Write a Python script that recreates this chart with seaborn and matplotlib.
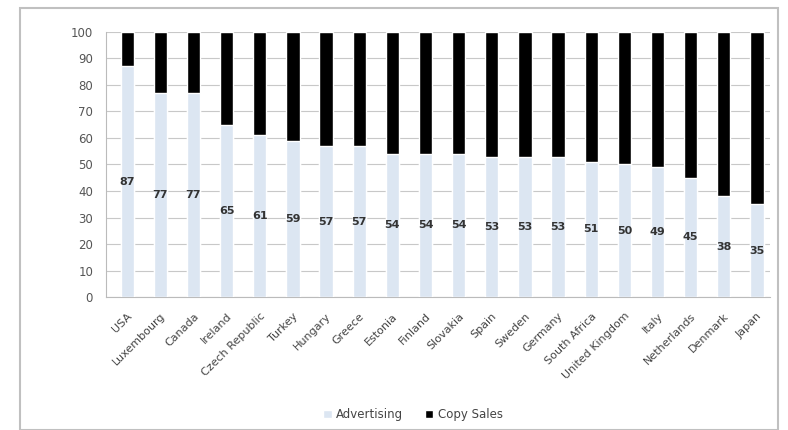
import matplotlib
matplotlib.use("Agg")
import matplotlib.pyplot as plt
import seaborn as sns
import pandas as pd
from matplotlib.patches import Rectangle, Patch

countries = ["USA", "Luxembourg", "Canada", "Ireland", "Czech Republic", "Turkey",
             "Hungary", "Greece", "Estonia", "Finland", "Slovakia", "Spain", "Sweden",
             "Germany", "South Africa", "United Kingdom", "Italy", "Netherlands",
             "Denmark", "Japan"]
advertising = [87, 77, 77, 65, 61, 59, 57, 57, 54, 54, 54, 53, 53, 53, 51, 50, 49, 45, 38, 35]
copy_sales = [13, 23, 23, 35, 39, 41, 43, 43, 46, 46, 46, 47, 47, 47, 49, 50, 51, 55, 62, 65]

df = pd.DataFrame({"country": countries, "Advertising": advertising, "Copy Sales": copy_sales})
df["total"] = df["Advertising"] + df["Copy Sales"]

sns.set_style("white")
fig = plt.figure(figsize=(7.88, 4.3), dpi=100)
ax = fig.add_axes([0.134, 0.309, 0.843, 0.617])

adv_color = "#dce6f2"
sns.barplot(data=df, x="country", y="total", color="black", width=0.4, ax=ax,
            saturation=1, zorder=3)
sns.barplot(data=df, x="country", y="Advertising", color=adv_color, width=0.4, ax=ax,
            saturation=1, zorder=3)

for i, v in enumerate(advertising):
    ax.text(i, v / 2, str(v), ha="center", va="center", fontsize=8,
            color="#333333", fontweight="bold", zorder=4)

ax.set_ylim(0, 100)
ax.set_xlim(-0.65, len(countries) - 0.61)
ax.set_yticks(range(0, 101, 10))
ax.tick_params(axis="y", labelsize=8.5, colors="#555555", length=0, pad=9)
ax.set_xticks(range(len(countries)))
ax.set_xticklabels(countries, rotation=45, ha="right", rotation_mode="anchor",
                   fontsize=8, color="#444444")
ax.tick_params(axis="x", length=0, pad=10)
ax.yaxis.grid(True, color="#c8c8c8", linewidth=0.8, zorder=0)
ax.set_axisbelow(True)
ax.set_xlabel("")
ax.set_ylabel("")
for s in ["top", "right"]:
    ax.spines[s].set_visible(False)
ax.spines["left"].set_color("#bbbbbb")
ax.spines["bottom"].set_color("#bbbbbb")

handles = [Patch(facecolor=adv_color, label="Advertising"),
           Patch(facecolor="black", label="Copy Sales")]
fig.legend(handles=handles, loc="center", bbox_to_anchor=(0.524, 0.035), ncol=2,
           frameon=False, fontsize=8.5, handlelength=0.7, handleheight=0.7,
           columnspacing=1.8, handletextpad=0.4, labelcolor="#444444")

fig.patches.append(Rectangle((20 / 788, 0), (778 - 20) / 788, 1 - 8 / 430,
                             transform=fig.transFigure, fill=False,
                             edgecolor="#c0c0c0", linewidth=1.5))

fig.savefig("out.png", dpi=100)
